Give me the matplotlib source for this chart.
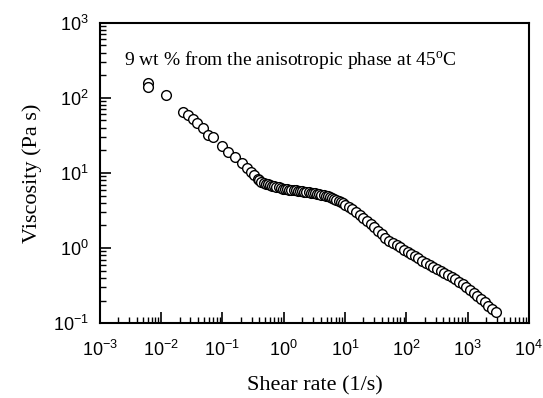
import math
import matplotlib
matplotlib.use("Agg")
import matplotlib.pyplot as plt
from matplotlib.ticker import LogLocator, FuncFormatter, NullFormatter

plt.rcParams["font.family"] = "Liberation Serif"
plt.rcParams["mathtext.fontset"] = "custom"
plt.rcParams["mathtext.rm"] = "Liberation Serif"
plt.rcParams["mathtext.sf"] = "Liberation Sans"

# Shear rate (1/s) and viscosity (Pa s)
shear_rate = [
    0.0062, 0.0062, 0.0121, 0.0230, 0.0277, 0.0335, 0.0389, 0.0489, 0.0589,
    0.0711, 0.100, 0.125, 0.163, 0.205, 0.247, 0.288, 0.322, 0.375,
    0.398, 0.432, 0.468, 0.507, 0.550, 0.596, 0.646, 0.700, 0.759, 0.822,
    0.891, 0.966, 1.047, 1.135, 1.230, 1.334, 1.445, 1.567, 1.698, 1.841,
    1.995, 2.163, 2.344, 2.541, 2.754, 2.985, 3.236, 3.508, 3.802, 4.121,
    4.467, 4.842, 5.248, 5.689, 6.166, 6.683, 7.244, 7.852, 8.511, 9.226,
    10.0, 11.5, 13.2, 15.1, 17.4, 20.0, 22.9, 26.3, 30.2, 34.7, 39.8, 45.7,
    52.5, 60.3, 69.2, 79.4, 91.2, 105, 120, 138, 158, 182, 209, 240, 275,
    316, 363, 417, 479, 550, 631, 724, 832, 955, 1096, 1259, 1445, 1660,
    1905, 2188, 2512, 2884,
]
viscosity = [
    158, 138, 110, 65, 59, 52.5, 46.4, 39.8, 32.1,
    30.2, 22.9, 19.1, 16.3, 13.6, 11.7, 10.3, 9.4, 8.3,
    7.94, 7.50, 7.35, 7.21, 7.08, 6.93, 6.79, 6.68, 6.56, 6.43,
    6.31, 6.17, 6.10, 6.04, 6.00, 5.94, 5.90, 5.85, 5.81, 5.75,
    5.70, 5.66, 5.61, 5.56, 5.48, 5.41, 5.35, 5.27, 5.20, 5.13,
    5.07, 5.00, 4.93, 4.79, 4.62, 4.48, 4.34, 4.20, 4.06, 3.94,
    3.79, 3.55, 3.32, 3.05, 2.77, 2.52, 2.29, 2.08, 1.89, 1.70, 1.53, 1.38,
    1.26, 1.17, 1.09, 1.02, 0.955, 0.891, 0.834, 0.780, 0.728, 0.681, 0.637,
    0.598, 0.562, 0.528, 0.496, 0.466, 0.438, 0.411, 0.385, 0.358, 0.331,
    0.305, 0.280, 0.256, 0.233, 0.210, 0.189, 0.171, 0.154, 0.139,
]

fig = plt.figure(figsize=(5.43, 3.98), dpi=100)
ax = fig.add_axes([0.184, 0.188, 0.790, 0.755])

ax.plot(shear_rate, viscosity, "o", mfc="white", mec="black", ms=7, mew=1.0)

ax.set_xscale("log")
ax.set_yscale("log")
ax.set_xlim(1e-3, 1e4)
ax.set_ylim(1e-1, 1e3)

dec = FuncFormatter(lambda v, p: r"$\mathsf{10^{%d}}$" % round(math.log10(v)))
for axis in (ax.xaxis, ax.yaxis):
    axis.set_major_locator(LogLocator(base=10, numticks=20))
    axis.set_minor_locator(LogLocator(base=10, subs=range(2, 10), numticks=20))
    axis.set_major_formatter(dec)
    axis.set_minor_formatter(NullFormatter())

ax.tick_params(which="major", direction="in", length=8, width=1.2, labelsize=13)
ax.tick_params(axis="x", which="major", pad=12)
ax.tick_params(axis="y", which="major", pad=8)
ax.tick_params(which="minor", direction="in", length=4, width=1.0)
for s in ax.spines.values():
    s.set_linewidth(1.5)

ax.set_xlabel("Shear rate (1/s)", fontsize=16, labelpad=12)
ax.set_ylabel("Viscosity (Pa s)", fontsize=16, labelpad=8)

ax.text(0.055, 0.87, r"9 wt % from the anisotropic phase at 45$^{\rm o}$C",
        transform=ax.transAxes, fontsize=14, va="center")

fig.savefig("out.png", dpi=100)
